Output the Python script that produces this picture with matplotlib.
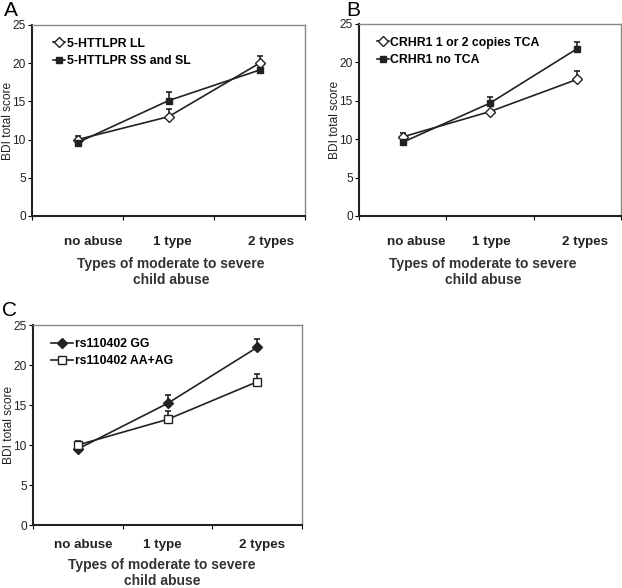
import matplotlib
matplotlib.use("Agg")
import matplotlib.pyplot as plt
import numpy as np

plt.rcParams['font.family'] = ['Liberation Sans', 'DejaVu Sans']

categories = ["no abuse", "1 type", "2 types"]
yticks = [0, 5, 10, 15, 20, 25]

# Panel A
a_ll = [10.0, 13.0, 20.0]
a_ll_err = [0.45, 1.0, 1.0]
a_ss = [9.6, 15.1, 19.1]
a_ss_err = [0.0, 1.1, 0.3]
# Panel B
b_tca = [10.3, 13.6, 17.8]
b_tca_err = [0.45, 0.0, 1.1]
b_notca = [9.6, 14.7, 21.8]
b_notca_err = [0.0, 0.8, 0.9]
# Panel C
c_gg = [9.5, 15.2, 22.2]
c_gg_err = [0.0, 1.0, 1.0]
c_aa = [10.0, 13.2, 17.9]
c_aa_err = [0.5, 1.0, 1.0]

W, H = 622, 588
fig = plt.figure(figsize=(W / 100, H / 100), dpi=100)
DARK = '#222222'

def add_ax(left, right, top, bottom):
    return fig.add_axes([left / W, 1 - bottom / H, (right - left) / W, (bottom - top) / H])

def style(ax, label_x, cat_dy, xl_x, xl_dy, ylab_x):
    ax.set_xlim(0, 3)
    ax.set_ylim(0, 25)
    ax.set_yticks(yticks)
    ax.set_yticklabels([str(t) for t in yticks], fontsize=8.6, color=DARK)
    ax.set_xticks([0, 1, 2, 3])
    ax.set_xticklabels([])
    ax.tick_params(axis='y', length=3, width=0.8, pad=1.5)
    ax.tick_params(axis='x', length=3, width=0.8)
    for s in ['left', 'bottom']:
        ax.spines[s].set_color(DARK)
        ax.spines[s].set_linewidth(1.5)
    for s in ['top', 'right']:
        ax.spines[s].set_color('#888888')
        ax.spines[s].set_linewidth(1.0)
    ax.set_ylabel("BDI total score", fontsize=8.6, color=DARK)
    ax.yaxis.set_label_coords(ylab_x, 0.5)
    for xc, lab in zip(label_x, categories):
        ax.annotate(lab, xy=(xc, 0), xycoords=('data', 'axes fraction'),
                    xytext=(0, -cat_dy), textcoords='offset pixels', ha='center', va='center',
                    fontsize=9.6, fontweight='bold', color=DARK)
    ax.annotate("Types of moderate to severe\nchild abuse", xy=(xl_x, 0),
                xycoords=('data', 'axes fraction'), xytext=(0, -xl_dy), textcoords='offset pixels',
                ha='center', va='center', fontsize=10, fontweight='bold', color='#333333',
                linespacing=1.1)

def series(ax, y, err, marker, mfc, label, ms):
    x = np.arange(len(y)) + 0.5
    ax.errorbar(x, y, yerr=[np.zeros(len(err)), err], fmt='none', ecolor=DARK,
                capsize=2, elinewidth=1.2, capthick=1.2)
    ax.plot(x, y, '-', color=DARK, lw=1.2, marker=marker, mfc=mfc, mec=DARK, ms=ms, label=label)

def legend(ax, hl, x, y):
    ax.legend(loc='upper left', frameon=False, handlelength=hl, handletextpad=0.1,
              prop={'weight': 'bold', 'size': 8.8}, labelspacing=0.45, bbox_to_anchor=(x, y),
              borderaxespad=0)

axA = add_ax(32, 305, 25, 216)
series(axA, a_ll, a_ll_err, 'D', 'white', "5-HTTLPR LL", 5)
series(axA, a_ss, a_ss_err, 's', DARK, "5-HTTLPR SS and SL", 5)
style(axA, [0.67, 1.54, 2.63], 26, 1.53, 56, -0.066)
legend(axA, 1.0, 0.06, 0.96)

axB = add_ax(359, 621, 24, 216)
series(axB, b_tca, b_tca_err, 'D', 'white', "CRHR1 1 or 2 copies TCA", 5)
series(axB, b_notca, b_notca_err, 's', DARK, "CRHR1 no TCA", 5)
style(axB, [0.66, 1.52, 2.59], 26, 1.42, 56, -0.069)
legend(axB, 1.0, 0.05, 0.96)

axC = add_ax(33, 302, 325, 525)
series(axC, c_gg, c_gg_err, 'D', DARK, "rs110402 GG", 5)
series(axC, c_aa, c_aa_err, 's', 'white', "rs110402 AA+AG", 6)
style(axC, [0.56, 1.44, 2.55], 20, 1.44, 48, -0.067)
legend(axC, 1.8, 0.05, 0.96)

fig.text(4 / W, 1 - 11 / H, "A", fontsize=15, va='center', ha='left')
fig.text(346 / W, 1 - 10 / H, "B", fontsize=15, va='center', ha='left')
fig.text(2 / W, 1 - 311 / H, "C", fontsize=15, va='center', ha='left')

fig.savefig("out.png", dpi=100)
